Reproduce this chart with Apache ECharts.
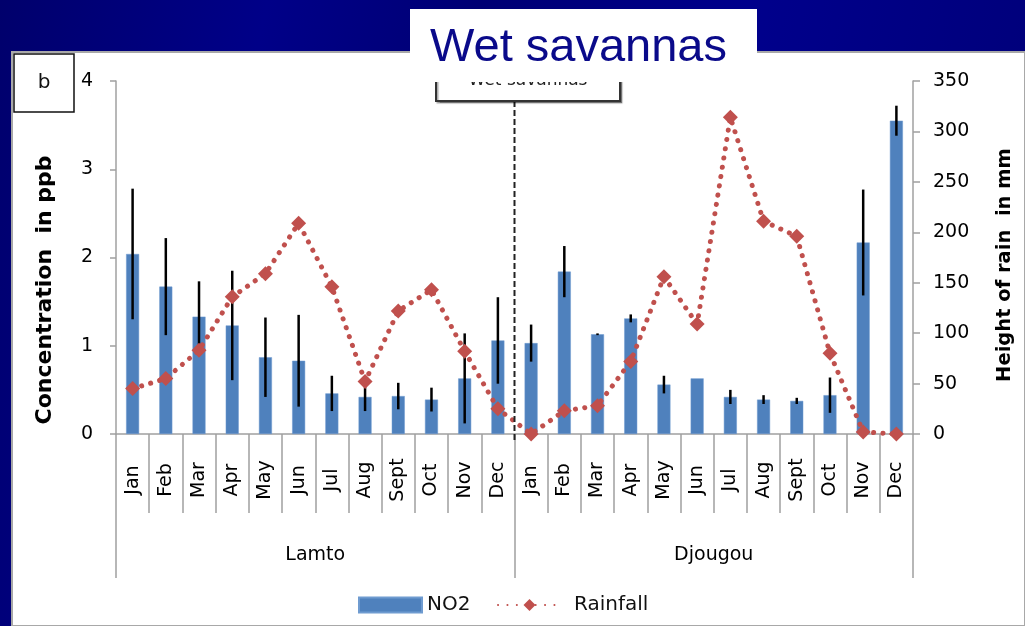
<!DOCTYPE html>
<html>
<head>
<meta charset="utf-8">
<script src="https://cdn.jsdelivr.net/npm/echarts@6/dist/echarts.min.js"></script>
<style>
html,body{margin:0;padding:0;background:#000080;}
#chart{width:1025px;height:626px;}
</style>
</head>
<body>
<div id="chart"></div>
<script>
// ---- data ----
const months = ['Jan','Feb','Mar','Apr','May','Jun','Jul','Aug','Sept','Oct','Nov','Dec'];
const sites = ['Lamto','Djougou'];
const no2Lamto    = [2.04,1.67,1.33,1.23,0.87,0.83,0.46,0.42,0.43,0.39,0.63,1.06];
const no2Djougou  = [1.03,1.84,1.13,1.31,0.56,0.63,0.42,0.39,0.375,0.44,2.17,3.55];
const errLamto    = [0.74,0.55,0.40,0.62,0.45,0.52,0.20,0.16,0.15,0.135,0.51,0.49];
const errDjougou  = [0.21,0.29,0.01,0.045,0.10,0,0.08,0.05,0.035,0.20,0.60,0.17];
const rainLamto   = [45,55,83,136,159,209,146,52,122,143,82,25];
const rainDjougou = [0,23,28,72,156,109,314,211,196,80,2,0];
const leftTicks = {min:0, max:4, interval:1};
const rightTicks = {min:0, max:350, interval:50};

const categories = months.concat(months);
const no2 = no2Lamto.concat(no2Djougou);
const err = errLamto.concat(errDjougou);
const rain = rainLamto.concat(rainDjougou);
const errData = no2.map((v,i)=>[i, v - err[i], v + err[i]]);

const FONT = 'DejaVu Sans';
const chart = echarts.init(document.getElementById('chart'));
const axisGray = '#a0a0a0';

const option = {
  animation: false,
  backgroundColor: {type:'linear', x:0, y:0, x2:1, y2:0.35, colorStops:[
    {offset:0, color:'#00006c'},{offset:0.25, color:'#000088'},{offset:0.45, color:'#000074'},
    {offset:0.7, color:'#00008c'},{offset:1, color:'#00007a'}]},
  textStyle: {fontFamily: FONT},
  grid: {left:116, right:112, top:81, bottom:192, containLabel:false},
  legend: [
    {data: [{name:'NO2', icon:'rect'}], left: 358, top: 595, padding: 0,
     itemWidth: 63, itemHeight: 15,
     textStyle: {fontFamily: FONT, fontSize: 20, color:'#111'}},
    {data: [{name:'Rainfall'}], left: 497, top: 595, padding: 0,
     itemWidth: 63, itemHeight: 15,
     textStyle: {fontFamily: FONT, fontSize: 20, color:'#111', padding:[0,0,0,8]}}
  ],
  xAxis: [
    {type:'category', data: categories, position:'bottom', boundaryGap:true,
     axisLine:{show:true, lineStyle:{color:axisGray, width:1.5}},
     axisTick:{show:true, interval:0, length:79, lineStyle:{color:axisGray, width:1.5}},
     axisLabel:{interval:0, rotate:90, align:'center', verticalAlign:'middle', margin:46,
                fontSize:19, color:'#000', fontFamily:FONT}},
    {type:'category', data: sites, position:'bottom', boundaryGap:true,
     axisLine:{show:false},
     axisTick:{show:true, interval:0, length:144, lineStyle:{color:axisGray, width:1.5}},
     axisLabel:{interval:0, margin:112, verticalAlign:'top', fontSize:19, color:'#000', fontFamily:FONT}}
  ],
  yAxis: [
    {type:'value', position:'left', min:leftTicks.min, max:leftTicks.max, interval:leftTicks.interval,
     axisLine:{show:true, lineStyle:{color:axisGray, width:1.5}},
     axisTick:{show:true, length:6, lineStyle:{color:axisGray, width:1.5}},
     splitLine:{show:false},
     axisLabel:{margin:23, fontSize:19, color:'#000', fontFamily:FONT}},
    {type:'value', position:'right', min:rightTicks.min, max:rightTicks.max, interval:rightTicks.interval,
     axisLine:{show:true, lineStyle:{color:axisGray, width:1.5}},
     axisTick:{show:true, length:7, lineStyle:{color:axisGray, width:1.5}},
     splitLine:{show:false},
     axisLabel:{margin:20, fontSize:19, color:'#000', fontFamily:FONT}}
  ],
  series: [
    {name:'NO2', type:'bar', data: no2, xAxisIndex:0, yAxisIndex:0, barWidth:13,
     itemStyle:{color:'#4F81BD', borderColor:'#6f9bd0', borderWidth:0.5}, z:2},
    {name:'err', type:'custom', xAxisIndex:0, yAxisIndex:0, data: errData, z:3,
     renderItem: function(params, api){
       const p1 = api.coord([api.value(0), api.value(1)]);
       const p2 = api.coord([api.value(0), api.value(2)]);
       return {type:'line', shape:{x1:p1[0], y1:p1[1], x2:p2[0], y2:p2[1]},
               style:{stroke:'#000', lineWidth:2.5}};
     }},
    {name:'Rainfall', type:'line', data: rain, xAxisIndex:0, yAxisIndex:1,
     symbol:'diamond', symbolSize:15, z:4,
     itemStyle:{color:'#C0504D'},
     lineStyle:{color:'#C0504D', width:5, type:[0.1, 9.3], cap:'round'}}
  ]
};
chart.setOption(option);

const xa = chart.convertToPixel({xAxisIndex:0}, 11);
const xb = chart.convertToPixel({xAxisIndex:0}, 12);
const xd = (xa + xb) / 2;

chart.setOption({
  graphic: [
    {type:'rect', z:-100, shape:{x:12, y:52, width:1013, height:574},
     style:{fill:'#fff', stroke:'#a8a8a8', lineWidth:2}},
    {type:'rect', z:50, shape:{x:14, y:54, width:60, height:58},
     style:{fill:'#fff', stroke:'#111', lineWidth:1.5}},
    {type:'text', z:51, x:44, y:83, style:{text:'b', font:'20px "DejaVu Sans"', fill:'#111', align:'center', verticalAlign:'middle'}},
    {type:'line', z:40, shape:{x1:xd, y1:101, x2:xd, y2:443},
     style:{stroke:'#222', lineWidth:2, lineDash:[6,3]}},
    {type:'rect', z:50, shape:{x:436, y:60, width:184, height:41},
     style:{fill:'#fff', stroke:'#333', lineWidth:2, shadowColor:'rgba(0,0,0,0.35)', shadowOffsetX:1.5, shadowOffsetY:1.5, shadowBlur:1}},
    {type:'text', z:51, x:528, y:81, style:{text:'Wet savannas', font:'17px "DejaVu Sans"', fill:'#222', align:'center', verticalAlign:'middle'}},
    {type:'rect', z:100, shape:{x:410, y:9, width:347, height:73}, style:{fill:'#fff'}},
    {type:'text', z:101, x:430, y:48, style:{text:'Wet savannas', font:'47px "Liberation Sans"', fill:'#0a0a8a', align:'left', verticalAlign:'middle'}},
    {type:'text', z:60, x:45, y:290, rotation:Math.PI/2,
     style:{text:'Concentration  in ppb', font:'bold 22px "DejaVu Sans"', fill:'#000', align:'center', verticalAlign:'middle'}},
    {type:'text', z:60, x:1005, y:265, rotation:Math.PI/2,
     style:{text:'Height of rain  in mm', font:'bold 19.5px "DejaVu Sans"', fill:'#000', align:'center', verticalAlign:'middle'}}
  ]
});
</script>
</body>
</html>
